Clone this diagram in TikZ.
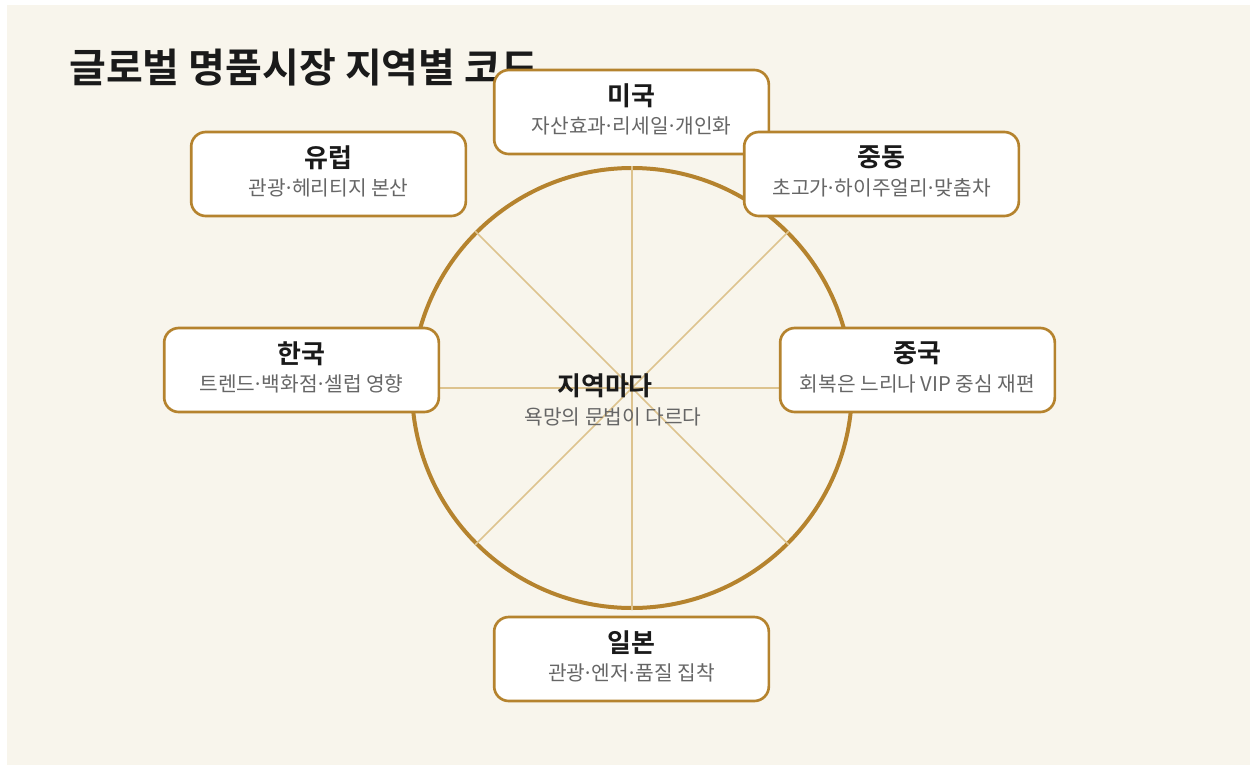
\documentclass[tikz,border=0pt]{standalone}
\usepackage{fontspec}
\setmainfont{Noto Sans CJK KR}
\newfontfamily\kr{Noto Sans CJK KR}
\newfontfamily\krb{Noto Sans CJK KR Bold}
\newcommand{\mdt}{\kern-1.8pt·\kern-1.8pt}
\definecolor{bg}{HTML}{F8F5EC}
\definecolor{gold}{HTML}{B5832E}
\definecolor{spoke}{HTML}{DDC38E}
\definecolor{ink}{HTML}{1A1A1A}
\definecolor{sub}{HTML}{666666}
\tikzset{
  regbox/.style={draw=gold, line width=2pt, fill=white, rounded corners=11pt,
    minimum width=206pt, minimum height=63pt, inner sep=0pt},
  regttl/.style={font=\krb\fontsize{19.5pt}{22pt}\selectfont, text=ink, inner sep=0pt, anchor=center},
  regsub/.style={font=\kr\fontsize{15.2pt}{18pt}\selectfont, text=sub, inner sep=0pt, anchor=center},
  spk/.style={draw=spoke, line width=1.1pt},
}
\begin{document}
\begin{tikzpicture}[x=0.75pt,y=-0.75pt]
\useasboundingbox (0,0) rectangle (1255,767);
\fill[white] (0,0) rectangle (1255,767);
\fill[bg] (7,5) rectangle (1250,765);
\node[font=\krb\fontsize{30pt}{34pt}\selectfont, text=ink, anchor=west, inner sep=0pt] (title) at (69,68) {글로벌 명품시장 지역별 코드};
\coordinate (c) at (632,388);
\draw[gold, line width=3pt] (c) circle [radius=165pt];
\foreach \a in {0,45,...,315}{
  \draw[spk] (c) -- ++(\a:222);
}
\node[regbox] (us) at (631.5,112) {};
\node[regttl] at ([yshift=12.5pt]us.center) {미국};
\node[regsub] at ([yshift=-10.5pt]us.center) {자산효과\mdt 리세일\mdt 개인화};
\node[regbox] (eu) at (328.5,174) {};
\node[regttl] at ([yshift=12.5pt]eu.center) {유럽};
\node[regsub] at ([yshift=-10.5pt]eu.center) {관광\mdt 헤리티지 본산};
\node[regbox] (me) at (881.5,174) {};
\node[regttl] at ([yshift=12.5pt]me.center) {중동};
\node[regsub] at ([yshift=-10.5pt]me.center) {초고가\mdt 하이주얼리\mdt 맞춤차};
\node[regbox] (kr) at (301.5,370) {};
\node[regttl] at ([yshift=12.5pt]kr.center) {한국};
\node[regsub] at ([yshift=-10.5pt]kr.center) {트렌드\mdt 백화점\mdt 셀럽 영향};
\node[regbox] (cn) at (917.5,370) {};
\node[regttl] at ([yshift=12.5pt]cn.center) {중국};
\node[regsub] at ([yshift=-10.5pt]cn.center) {회복은 느리나 VIP 중심 재편};
\node[regbox] (jp) at (631.5,659) {};
\node[regttl] at ([yshift=12.5pt]jp.center) {일본};
\node[regsub] at ([yshift=-10.5pt]jp.center) {관광\mdt 엔저\mdt 품질 집착};
\node[regttl] (ctitle) at (605,386) {지역마다};
\node[regsub] (csub) at (613,417) {욕망의 문법이 다르다};
\end{tikzpicture}
\end{document}
